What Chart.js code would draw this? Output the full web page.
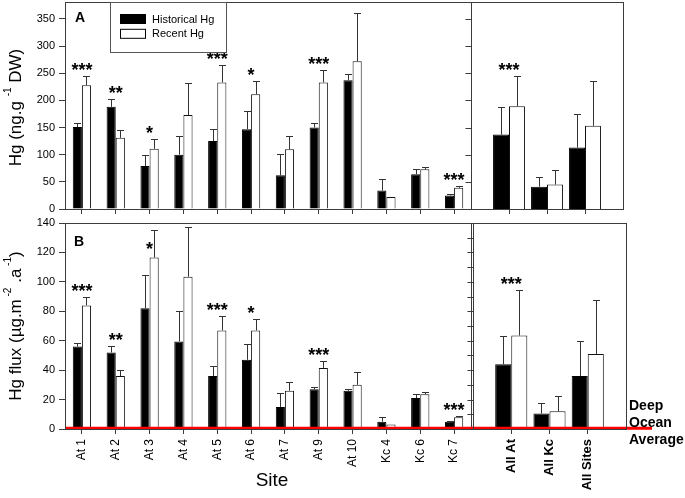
<!DOCTYPE html>
<html><head><meta charset="utf-8">
<script src="https://cdn.jsdelivr.net/npm/chart.js@4"></script>
<style>
html,body{margin:0;padding:0;background:#fff;}
#wrap{position:relative;width:685px;height:498px;overflow:hidden;background:#fff;}
canvas{position:absolute;}
</style></head><body>
<div id="wrap">
<canvas id="cA1" width="480" height="218" style="left:0px;top:0px"></canvas>
<canvas id="cA2" width="200" height="218" style="left:440px;top:0px"></canvas>
<canvas id="cB1" width="480" height="283" style="left:0px;top:215px"></canvas>
<canvas id="cB2" width="245" height="283" style="left:440px;top:215px"></canvas>
</div>
<script>
// ---------- data ----------
const siteLabels = ['At 1','At 2','At 3','At 4','At 5','At 6','At 7','At 9','At 10','Kc 4','Kc 6','Kc 7'];
const groupLabels = ['All At','All Kc','All Sites'];
const seriesNames = ['Historical Hg','Recent Hg'];

// Panel A: Hg concentration (ng/g DW), bars and upper error (SE)
const concHistorical    = [151,188,79,100,125,147,62,150,237,34,64,25];
const concHistoricalErr = [8,15,21,35,22,34,39,9,11,21,10,3];
const concRecent        = [228,131,111,173,233,211,110,233,272,22,73,39];
const concRecentErr     = [17,14,18,58,32,25,25,23,88,0,4,3];
const concGroupHistorical    = [137,41,113];
const concGroupHistoricalErr = [51,17,61];
const concGroupRecent        = [189,45,153];
const concGroupRecentErr     = [56,26,83];

// Panel B: Hg flux (ug/m2/a)
const fluxHistorical    = [56,52,82,59.5,36,47,15,27,26,5,21,5];
const fluxHistoricalErr = [2.5,4.5,22.5,21,6.5,11,9.5,1.5,1,3,3,0.5];
const fluxRecent        = [84,36,116.5,103.5,67,67,26,41.5,30,3,23.7,8];
const fluxRecentErr     = [6,4,18.5,34,9.5,8,6,4.5,9,0,1.5,0.5];
const fluxGroupHistorical    = [44,10.5,36];
const fluxGroupHistoricalErr = [19.5,7.5,23.5];
const fluxGroupRecent        = [63.5,12,51];
const fluxGroupRecentErr     = [31,10.5,36.5];

// significance marks
const siteStars  = ['***','**','*','','***','*','','***','','','','***'];
const groupStars = ['***','',''];

const deepOceanAverage = 0.5;
const deepOceanText = ['Deep','Ocean','Average'];

const concTicks = [0,50,100,150,200,250,300,350];
const fluxTicks = [0,20,40,60,80,100,120,140];

// ---------- drawing ----------
const FONT = "'Liberation Sans', Arial, Helvetica, sans-serif";
Chart.defaults.font.family = FONT;
Chart.defaults.color = '#000';
const AXIS = '#3c3c3c';

const decor = {
  id: 'decor',
  afterDatasetsDraw(chart, args, o) {
    const ctx = chart.ctx, a = chart.chartArea, ys = chart.scales.y, xs = chart.scales.x;
    ctx.save();
    // error bars
    chart.data.datasets.forEach((ds, i) => {
      const meta = chart.getDatasetMeta(i);
      ctx.strokeStyle = '#333'; ctx.lineWidth = 1;
      meta.data.forEach((bar, j) => {
        const v = ds.data[j], e = ds.errors[j];
        if (v == null || !e) return;
        const x = Math.round(bar.x) + 0.5;
        const yt = Math.round(ys.getPixelForValue(v + e)) + 0.5;
        ctx.beginPath();
        ctx.moveTo(x, bar.y); ctx.lineTo(x, yt);
        ctx.moveTo(x - 3.5, yt); ctx.lineTo(x + 3.5, yt);
        ctx.stroke();
      });
    });
    // significance stars
    ctx.font = 'bold 18px ' + FONT; ctx.textAlign = 'center'; ctx.textBaseline = 'alphabetic'; ctx.fillStyle = '#000';
    o.stars.forEach((s, j) => {
      if (!s) return;
      let top = Infinity;
      chart.data.datasets.forEach(ds => {
        const v = ds.data[j]; if (v == null) return;
        top = Math.min(top, ys.getPixelForValue(v + (ds.errors[j] || 0)));
      });
      const y = Math.max(top, a.top + 32);
      ctx.fillText(s, xs.getPixelForValue(j), y);
    });
    // deep ocean line
    if (o.deep != null) {
      const y = ys.getPixelForValue(o.deep);
      ctx.strokeStyle = '#ff0000'; ctx.lineWidth = 3;
      ctx.beginPath(); ctx.moveTo(a.left - (o.deepLeft || 0), y); ctx.lineTo(a.right + (o.deepRight || 0), y); ctx.stroke();
    }
    // panel box
    ctx.strokeStyle = AXIS; ctx.lineWidth = 1;
    const l = Math.round(a.left) + 0.5, r = Math.round(a.right) + 0.5, t = Math.round(a.top) + 0.5, b = Math.round(a.bottom) + 0.5;
    ctx.strokeRect(l, t, r - l, b - t);
    // outward y tick marks for the summary panels
    if (o.leftTicks) {
      ctx.beginPath();
      ys.ticks.forEach(tk => {
        const y = Math.round(ys.getPixelForValue(tk.value)) + 0.5;
        ctx.moveTo(l - 6, y); ctx.lineTo(l, y);
      });
      ctx.stroke();
    }
    ctx.restore();
  },
  afterDraw(chart, args, o) {
    const ctx = chart.ctx, a = chart.chartArea;
    ctx.save();
    ctx.fillStyle = '#000';
    if (o.letter) {
      ctx.font = 'bold 14px ' + FONT; ctx.textAlign = 'left'; ctx.textBaseline = 'alphabetic';
      ctx.fillText(o.letter, a.left + o.letterDx, a.top + o.letterDy);
    }
    if (o.legend) {
      ctx.strokeStyle = '#555'; ctx.lineWidth = 1;
      ctx.strokeRect(Math.round(a.left) + 45.5, Math.round(a.top) + 0.5, 116, 50);
      chart.data.datasets.forEach((ds, k) => {
        const sy = Math.round(a.top) + 12.5 + k * 14.8;
        ctx.fillStyle = ds.backgroundColor; ctx.fillRect(a.left + 56, sy, 25, 9);
        ctx.strokeStyle = '#000'; ctx.strokeRect(a.left + 55.5, sy, 25, 9);
        ctx.fillStyle = '#000'; ctx.font = '11px ' + FONT; ctx.textBaseline = 'middle'; ctx.textAlign = 'left';
        ctx.fillText(ds.label, a.left + 87, sy + 5);
      });
    }
    if (o.ytitle) {
      const MAIN = '17px ' + FONT, SUP = '10px ' + FONT;
      const cy = (a.top + a.bottom) / 2 + (o.ytitleDy || 0);
      ctx.translate(21, cy); ctx.rotate(-Math.PI / 2);
      let total = 0;
      o.ytitle.forEach(p => { ctx.font = p[1] ? SUP : MAIN; total += ctx.measureText(p[0]).width; });
      let cx = -total / 2;
      ctx.textBaseline = 'alphabetic'; ctx.textAlign = 'left';
      o.ytitle.forEach(p => { ctx.font = p[1] ? SUP : MAIN; ctx.fillText(p[0], cx, p[1] ? -10 : 0); cx += ctx.measureText(p[0]).width; });
      ctx.setTransform(1, 0, 0, 1, 0, 0);
    }
    if (o.xtitle) {
      ctx.font = '19px ' + FONT; ctx.textAlign = 'center'; ctx.textBaseline = 'alphabetic';
      ctx.fillText(o.xtitle, (a.left + a.right) / 2 + 4, chart.height - 12);
    }
    if (o.deepText) {
      const y0 = chart.scales.y.getPixelForValue(0);
      ctx.font = 'bold 14px ' + FONT; ctx.textAlign = 'left'; ctx.textBaseline = 'alphabetic';
      o.deepText.forEach((w, k) => ctx.fillText(w, a.right + 3, y0 - 19 + k * 17));
    }
    ctx.restore();
  }
};

function makeChart(id, cfg) {
  const pad = arr => cfg.group ? [null, ...arr, null] : arr;
  const labels = cfg.group ? ['', ...cfg.labels, ''] : cfg.labels;
  const fixY = s => { s.width = cfg.yWidth; s.paddingTop = 0; s.paddingBottom = 0; s.paddingLeft = 0; s.paddingRight = 0; };
  const fixX = s => { s.height = cfg.xHeight; s.paddingTop = 0; s.paddingBottom = 0; s.paddingLeft = 0; s.paddingRight = 0; };
  const catPct = cfg.group ? 0.84 : 0.54;
  return new Chart(document.getElementById(id), {
    type: 'bar',
    data: {
      labels,
      datasets: [
        { label: seriesNames[0], data: pad(cfg.h), errors: pad(cfg.he), backgroundColor: '#000', borderColor: '#000', borderWidth: 1, categoryPercentage: catPct, barPercentage: 1 },
        { label: seriesNames[1], data: pad(cfg.r), errors: pad(cfg.re), backgroundColor: '#fff', borderColor: '#111', borderWidth: 1, categoryPercentage: catPct, barPercentage: 1 }
      ]
    },
    options: {
      responsive: false, animation: false, devicePixelRatio: 1,
      layout: { padding: { top: cfg.padTop, right: cfg.padRight, left: 0, bottom: 0 } },
      plugins: {
        legend: { display: false }, tooltip: { enabled: false },
        decor: Object.assign({ leftTicks: cfg.group }, cfg.decor)
      },
      scales: {
        x: {
          type: 'category', offset: !cfg.group,
          grid: { display: true, drawOnChartArea: false, offset: false, tickLength: 5,
                  tickColor: c => (c.tick && c.tick.label !== '') ? AXIS : 'rgba(0,0,0,0)', color: AXIS },
          border: { display: false },
          ticks: { display: cfg.showX, autoSkip: false, minRotation: 90, maxRotation: 90, padding: 5,
                   font: cfg.group ? { size: 13, weight: 'bold' } : { size: 12 }, color: '#000' },
          afterFit: fixX
        },
        y: {
          min: 0, max: cfg.ymax,
          grid: { display: !cfg.group, drawOnChartArea: false, tickLength: 6, tickColor: AXIS },
          border: { display: false },
          ticks: { display: !cfg.group, stepSize: cfg.step, includeBounds: false, padding: 4, font: { size: 11 }, color: '#000',
                   callback: v => cfg.tickVals.includes(v) ? String(v) : '' },
          afterFit: fixY
        }
      }
    },
    plugins: [decor]
  });
}

makeChart('cA1', { labels: siteLabels, h: concHistorical, he: concHistoricalErr, r: concRecent, re: concRecentErr,
  ymax: 381, step: 50, tickVals: concTicks, yWidth: 65, xHeight: 9, padTop: 2, padRight: 9, showX: false, group: false,
  decor: { stars: siteStars, letter: 'A', letterDx: 10, letterDy: 20, legend: true,
           ytitle: [['Hg (ng.g ', 0], ['-1', 1], [' DW)', 0]], ytitleDy: 2 } });

makeChart('cA2', { labels: groupLabels, h: concGroupHistorical, he: concGroupHistoricalErr, r: concGroupRecent, re: concGroupRecentErr,
  ymax: 381, step: 50, tickVals: concTicks, yWidth: 31, xHeight: 9, padTop: 2, padRight: 17, showX: false, group: true,
  decor: { stars: ['', ...groupStars, ''] } });

makeChart('cB1', { labels: siteLabels, h: fluxHistorical, he: fluxHistoricalErr, r: fluxRecent, re: fluxRecentErr,
  ymax: 140, step: 10, tickVals: fluxTicks, yWidth: 65, xHeight: 69, padTop: 8, padRight: 9, showX: true, group: false,
  decor: { stars: siteStars, letter: 'B', letterDx: 9, letterDy: 23, deep: deepOceanAverage, deepLeft: 0, deepRight: 2,
           ytitle: [['Hg flux (\u00b5g.m', 0], [' -2', 1], [' .a', 0], [' -1', 1], [')', 0]], xtitle: 'Site' } });

makeChart('cB2', { labels: groupLabels, h: fluxGroupHistorical, he: fluxGroupHistoricalErr, r: fluxGroupRecent, re: fluxGroupRecentErr,
  ymax: 140, step: 10, tickVals: fluxTicks, yWidth: 33, xHeight: 69, padTop: 8, padRight: 59, showX: true, group: true,
  decor: { stars: ['', ...groupStars, ''], deep: deepOceanAverage, deepLeft: 2, deepRight: 26, deepText: deepOceanText } });
</script>
</body></html>
